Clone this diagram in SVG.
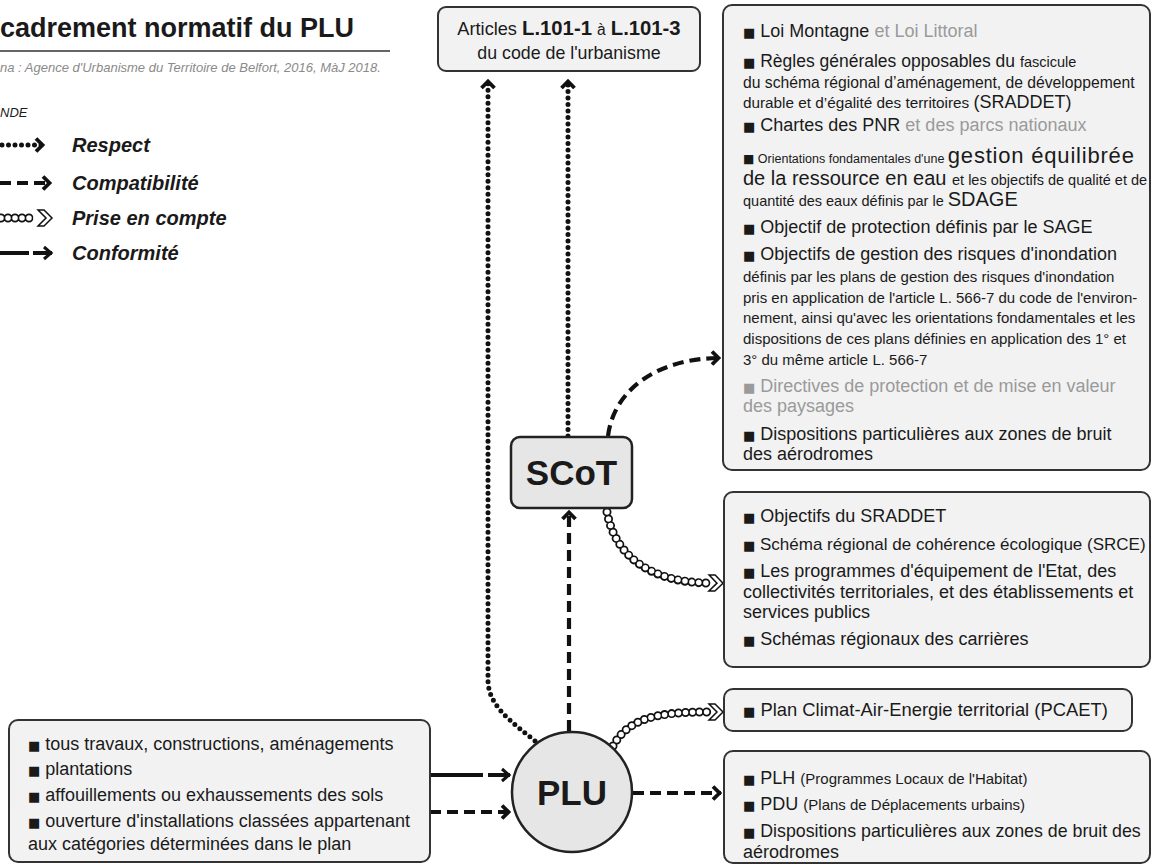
<svg xmlns="http://www.w3.org/2000/svg" width="1152" height="865" viewBox="0 0 1152 865">
<style>
text{font-family:"Liberation Sans",Arial,Helvetica,sans-serif;fill:#1a1a1a}
.b{font-family:"DejaVu Sans",sans-serif;font-size:13px}
.box{fill:#f2f2f2;stroke:#333;stroke-width:2}
.node{fill:#e6e6e6;stroke:#222;stroke-width:2.5}
.L{font-size:18px}
.S{font-size:15px}
.g{fill:#9a9a9a}
.dot{fill:none;stroke:#111;stroke-width:5;stroke-linecap:round;stroke-dasharray:0 6.5}
.dash{fill:none;stroke:#111;stroke-width:4.2;stroke-dasharray:11 6}
.solid{fill:none;stroke:#111;stroke-width:4}
.chainB{fill:none;stroke:#111;stroke-width:9;stroke-linecap:round;stroke-dasharray:0 7}
.chainW{fill:none;stroke:#fff;stroke-width:5.5;stroke-linecap:round;stroke-dasharray:0 7}
.leg{font-size:20px;font-weight:bold;font-style:italic}
</style>
<defs>
<marker id="chev" viewBox="-12 -9 14 18" refX="0" refY="0" markerWidth="14" markerHeight="18" markerUnits="userSpaceOnUse" orient="auto">
<path d="M-8,-6.5 L-1.5,0 L-8,6.5" fill="none" stroke="#111" stroke-width="3.8" stroke-dasharray="none"/>
</marker>
<marker id="arr" viewBox="-12 -9 14 18" refX="0" refY="0" markerWidth="14" markerHeight="18" markerUnits="userSpaceOnUse" orient="auto">
<path d="M-8,-6 L-1,0 L-8,6" fill="none" stroke="#111" stroke-width="3" stroke-dasharray="none"/>
</marker>
<marker id="hollow" viewBox="-2 -10 18 20" refX="0" refY="0" markerWidth="18" markerHeight="20" markerUnits="userSpaceOnUse" orient="auto">
<polygon points="0,-8 6,-8 14,0 6,8 0,8 8,0" fill="#fff" stroke="#111" stroke-width="1.5" stroke-dasharray="none"/>
</marker>
</defs>

<g id="title">
<text x="0" y="37" font-size="27" font-weight="bold">cadrement normatif du PLU</text>
<line x1="0" y1="51" x2="390" y2="51" stroke="#333" stroke-width="1.5"/>
<text x="0" y="72" font-size="13" font-style="italic" style="fill:#8a8a8a">na : Agence d'Urbanisme du Territoire de Belfort, 2016, MàJ 2018.</text>
<text x="0" y="117" font-size="13" font-style="italic">NDE</text>
</g>

<g id="legend">
<path class="dot" d="M2,145 L44,145" marker-end="url(#chev)"/>
<text class="leg" x="72" y="152">Respect</text>
<path class="dash" d="M0,183 L51,183" marker-end="url(#chev)"/>
<text class="leg" x="72" y="190">Compatibilité</text>
<path class="chainB" d="M1,218 L36,218"/>
<path class="chainW" d="M1,218 L38,218" marker-end="url(#hollow)"/>
<text class="leg" x="72" y="225">Prise en compte</text>
<path class="solid" d="M0,253 L29,253"/>
<path class="solid" d="M33,253 L52,253" marker-end="url(#arr)"/>
<text class="leg" x="72" y="260">Conformité</text>
</g>

<g id="connectors">
<path class="dot" d="M535,741 C512,722 488,706 488,680 L488,80" marker-end="url(#chev)"/>
<path class="dot" d="M568,436 L568,80" marker-end="url(#chev)"/>
<path class="dash" d="M569,731 L569,511" marker-end="url(#chev)"/>
<path class="dash" d="M608,436 C614,388 660,358 720,358" marker-end="url(#chev)"/>
<path class="chainB" d="M607,512 C615,556 650,582 707,583"/>
<path class="chainW" d="M607,512 C615,556 650,582 709,583" marker-end="url(#hollow)"/>
<path class="chainB" d="M613,746 C628,719 655,712 707,712"/>
<path class="chainW" d="M613,746 C628,719 655,712 709,712" marker-end="url(#hollow)"/>
<path class="dash" d="M633,793 L721,793" marker-end="url(#chev)"/>
<path class="solid" d="M430,775 L483,775"/>
<path class="solid" d="M488,775 L510,775" marker-end="url(#arr)"/>
<path class="dash" d="M430,812 L510,812" marker-end="url(#chev)"/>
</g>

<g id="articles">
<rect class="box" x="438" y="7" width="262" height="64" rx="8"/>
<text x="569" y="35" text-anchor="middle" font-size="18.2">Articles <tspan font-weight="bold" font-size="20.3">L.101-1</tspan> <tspan font-size="15.6">à</tspan> <tspan font-weight="bold" font-size="20.3">L.101-3</tspan></text>
<text x="569" y="59" text-anchor="middle" font-size="17.8">du code de l'urbanisme</text>
</g>

<g id="scot">
<rect class="node" x="511" y="437" width="121" height="71" rx="9"/>
<text x="571.5" y="485" text-anchor="middle" font-size="35" font-weight="bold">SCoT</text>
</g>

<g id="plu">
<circle class="node" cx="572" cy="792" r="60"/>
<text x="572" y="805" text-anchor="middle" font-size="35" font-weight="bold">PLU</text>
</g>

<g id="box-respect-compat">
<rect class="box" x="723" y="5" width="427" height="465" rx="9"/>
<text class="L" x="743" y="37"><tspan class="b">■</tspan> Loi Montagne <tspan class="g">et Loi Littoral</tspan></text>
<text x="743" y="67" font-size="17.5"><tspan class="b">■</tspan> Règles générales opposables du <tspan font-size="14.5">fascicule</tspan></text>
<text x="743" y="88" font-size="15.7">du schéma régional d’aménagement, de développement</text>
<text x="743" y="108" font-size="15.3">durable et d’égalité des territoires <tspan class="L">(SRADDET)</tspan></text>
<text class="L" x="743" y="131"><tspan class="b">■</tspan> Chartes des PNR <tspan class="g">et des parcs nationaux</tspan></text>
<text x="743" y="163" font-size="12.5"><tspan class="b" style="font-size:12px">■</tspan> Orientations fondamentales d'une <tspan font-size="22" letter-spacing="0.8">gestion équilibrée</tspan></text>
<text x="743" y="185" font-size="20">de la ressource en eau <tspan font-size="14.5">et les objectifs de qualité et de</tspan></text>
<text x="743" y="206" font-size="14.5">quantité des eaux définis par le <tspan font-size="20">SDAGE</tspan></text>
<text class="L" x="743" y="233"><tspan class="b">■</tspan> Objectif de protection définis par le SAGE</text>
<text class="L" x="743" y="260"><tspan class="b">■</tspan> Objectifs de gestion des risques d'inondation</text>
<text class="S" x="743" y="282">définis par les plans de gestion des risques d'inondation</text>
<text class="S" x="743" y="303">pris en application de l'article L. 566-7 du code de l'environ-</text>
<text class="S" x="743" y="323">nement, ainsi qu'avec les orientations fondamentales et les</text>
<text class="S" x="743" y="344">dispositions de ces plans définies en application des 1° et</text>
<text class="S" x="743" y="365">3° du même article L. 566-7</text>
<text class="L g" x="743" y="392"><tspan class="b">■</tspan> Directives de protection et de mise en valeur</text>
<text class="L g" x="743" y="412">des paysages</text>
<text class="L" x="743" y="440"><tspan class="b">■</tspan> Dispositions particulières aux zones de bruit</text>
<text class="L" x="743" y="460">des aérodromes</text>
</g>

<g id="box-prise-scot">
<rect class="box" x="724" y="492" width="426" height="175" rx="9"/>
<text class="L" x="743" y="522"><tspan class="b">■</tspan> Objectifs du SRADDET</text>
<text x="743" y="550" font-size="17"><tspan class="b">■</tspan> Schéma régional de cohérence écologique (SRCE)</text>
<text class="L" x="743" y="577"><tspan class="b">■</tspan> Les programmes d'équipement de l'Etat, des</text>
<text class="L" x="743" y="598">collectivités territoriales, et des établissements et</text>
<text class="L" x="743" y="618">services publics</text>
<text class="L" x="743" y="645"><tspan class="b">■</tspan> Schémas régionaux des carrières</text>
</g>

<g id="box-pcaet">
<rect class="box" x="724" y="689" width="408" height="42" rx="9"/>
<text x="743" y="716" font-size="18.4"><tspan class="b">■</tspan> Plan Climat-Air-Energie territorial (PCAET)</text>
</g>

<g id="box-plu-compat">
<rect class="box" x="724" y="751" width="426" height="112" rx="9"/>
<text class="L" x="743" y="784"><tspan class="b">■</tspan> PLH <tspan class="S">(Programmes Locaux de l'Habitat)</tspan></text>
<text class="L" x="743" y="810"><tspan class="b">■</tspan> PDU <tspan class="S">(Plans de Déplacements urbains)</tspan></text>
<text x="743" y="837" font-size="17.8"><tspan class="b">■</tspan> Dispositions particulières aux zones de bruit des</text>
<text class="L" x="743" y="858">aérodromes</text>
</g>

<g id="box-conformite">
<rect class="box" x="9" y="720" width="421" height="142" rx="9"/>
<text class="L" x="28" y="750"><tspan class="b">■</tspan> tous travaux, constructions, aménagements</text>
<text class="L" x="28" y="775"><tspan class="b">■</tspan> plantations</text>
<text class="L" x="28" y="801"><tspan class="b">■</tspan> affouillements ou exhaussements des sols</text>
<text class="L" x="28" y="827"><tspan class="b">■</tspan> ouverture d'installations classées appartenant</text>
<text class="L" x="28" y="850">aux catégories déterminées dans le plan</text>
</g>
</svg>
